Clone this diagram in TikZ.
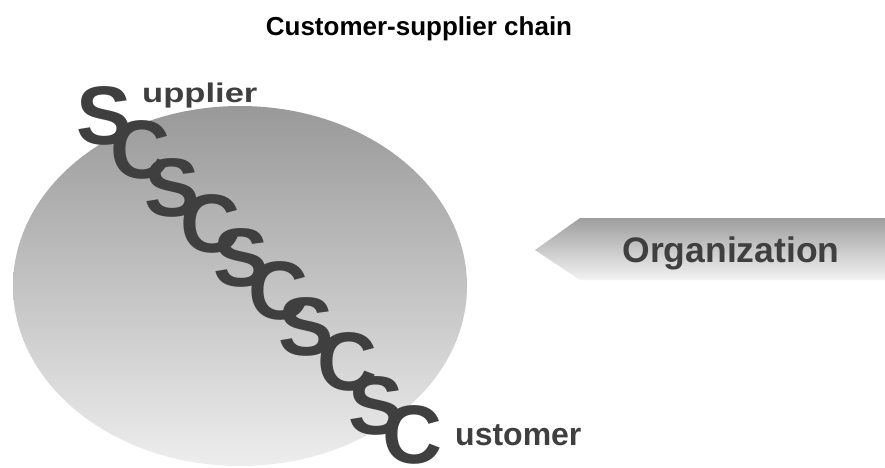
\documentclass[tikz,border=0pt]{standalone}
\usepackage{graphicx}
\usepackage{fontspec}
\setmainfont{Liberation Sans}
\definecolor{ink}{HTML}{3F3F3F}

\begin{document}
\begin{tikzpicture}[x=1pt,y=-1pt,
  chainletter/.style={inner sep=0pt,text=ink,font=\fontsize{83}{83}\selectfont\bfseries},
  tailtext/.style={inner sep=0pt,anchor=base west,text=ink}]
  \useasboundingbox (0,0) rectangle (885,467);
  \node[anchor=base,inner sep=0pt,font=\fontsize{26}{30}\selectfont\bfseries] (title) at (419,35) {Customer-supplier chain};
  % organization circle
  \shade[top color=black!40,bottom color=black!7] (240,286) ellipse [x radius=227,y radius=180];
  % arrow on the right
  \shade[top color=black!38,bottom color=black!5] (535,250) -- (580,218) -- (885,218) -- (885,280) -- (580,280) -- cycle;
  \node[anchor=base,inner sep=0pt,text=ink,font=\fontsize{35.5}{36}\selectfont\bfseries] (org) at (731,262) {Organization};
  % the chain
  \foreach \l/\x/\y [count=\i] in {S/104/116,C/140/150,S/172/188,C/210/224,S/241/258,
      C/278/291,S/306/327,C/347/362,S/376/406,C/412/435}
    \node[chainletter] (l\i) at (\x,\y) {\l};
  \node[tailtext,font=\fontsize{27}{27}\selectfont\bfseries] (supp) at (142,102) {\scalebox{1.28}[1]{upplier}};
  \node[tailtext,font=\fontsize{32}{32}\selectfont\bfseries] (cust) at (455,445) {ustomer};
\end{tikzpicture}
\end{document}
